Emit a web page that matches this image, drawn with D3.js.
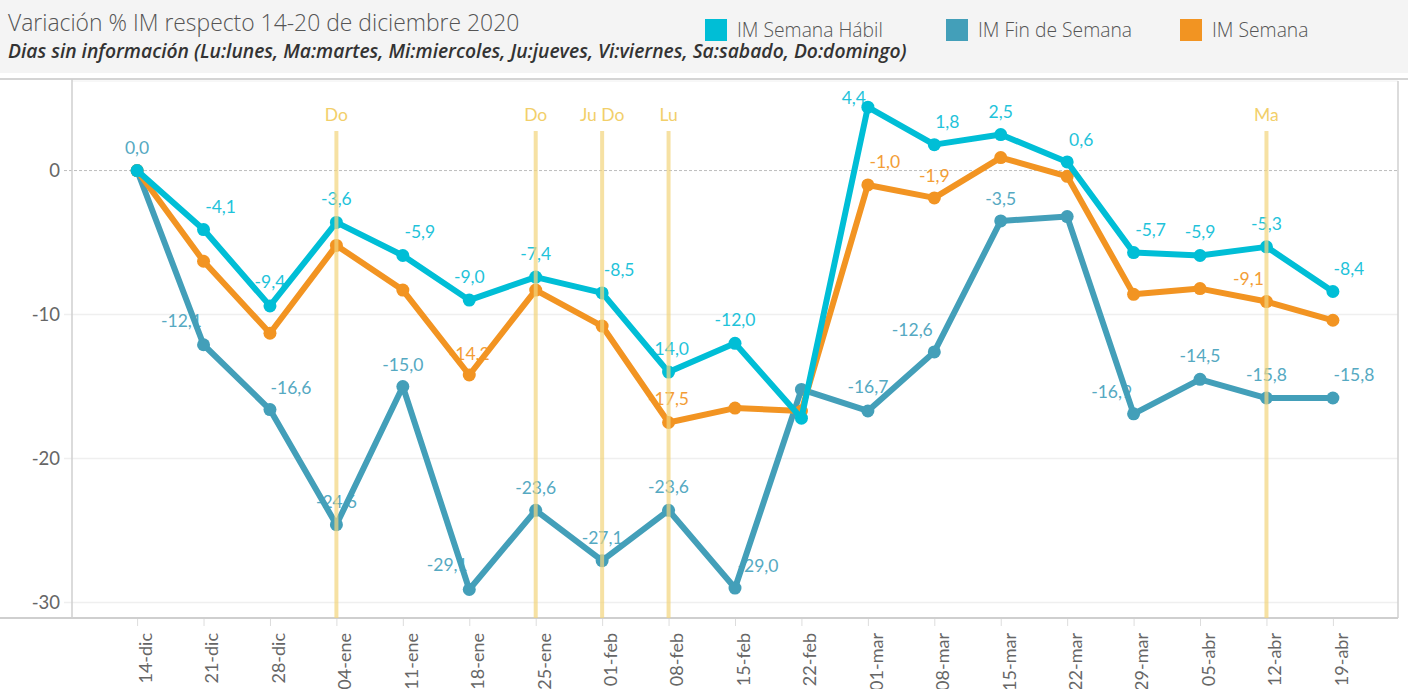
<!DOCTYPE html>
<html>
<head>
<meta charset="utf-8">
<script src="https://cdn.jsdelivr.net/npm/d3@7"></script>
<style>
  body { margin: 0; background: #fff; }
  svg { display: block; font-family: Lato, "Noto Sans", sans-serif; }
</style>
</head>
<body>
<svg id="chart"></svg>
<script>
// semanas (lunes de cada semana)
var semanas = ["14-dic","21-dic","28-dic","04-ene","11-ene","18-ene","25-ene","01-feb","08-feb","15-feb",
               "22-feb","01-mar","08-mar","15-mar","22-mar","29-mar","05-abr","12-abr","19-abr"];

// valores % por serie
var imHabil  = [0.0, -4.1, -9.4, -3.6, -5.9, -9.0, -7.4, -8.5, -14.0, -12.0, -17.2, 4.4, 1.8, 2.5, 0.6, -5.7, -5.9, -5.3, -8.4];
var imFinSem = [0.0, -12.1, -16.6, -24.6, -15.0, -29.1, -23.6, -27.1, -23.6, -29.0, -15.2, -16.7, -12.6, -3.5, -3.2, -16.9, -14.5, -15.8, -15.8];
var imSemana = [0.0, -6.3, -11.3, -5.2, -8.3, -14.2, -8.3, -10.8, -17.5, -16.5, -16.7, -1.0, -1.9, 0.9, -0.4, -8.6, -8.2, -9.1, -10.4];

// dias sin informacion
var refSemanas = ["04-ene","25-ene","01-feb","08-feb","12-abr"];
var refTextos  = ["Do","Do","Ju Do","Lu","Ma"];

var yTicks = [0, -10, -20, -30];

// etiquetas visibles: [dx, dy] respecto al punto, null = oculta
var lblHabil = [null,[17,-17],[0,-18],[0,-17],[17,-17],[0,-17],[0,-17],[17,-17],[0,-17],[0,-17],null,
                [-14,-3],[13,-17],[0,-17],[14,-16],[17,-17],[0,-17],[0,-17],[16,-16]];
var lblFinSem = [[0,-17],[-22,-18],[21,-16],[0,-17],[0,-15],[-22,-18],[0,-16],[0,-17],[0,-17],[23,-16],null,
                 [0,-18],[-22,-16],[0,-16],null,[-22,-16],[0,-17],[0,-17],[21,-17]];
var lblSemana = [null,null,null,null,null,[0,-15],null,null,[0,-17],null,null,
                 [17,-17],[0,-16],null,null,null,null,[-18,-17],null];

var W = 1408, H = 689;
var svg = d3.select("#chart").attr("width", W).attr("height", H);
var fmt = function(v, p) { return d3.format(p)(v).replace(".", ",").replace("−", "-"); };

// cabecera
svg.append("rect").attr("x", 0).attr("y", 0).attr("width", W).attr("height", 73).attr("fill", "#f4f4f4");
svg.append("line").attr("x1", 0).attr("x2", W).attr("y1", 79).attr("y2", 79)
  .attr("stroke", "#d4d4d4").attr("stroke-width", 2);

svg.append("text").attr("x", 8).attr("y", 31)
  .attr("font-size", 22.9).attr("font-family", "'Open Sans', sans-serif").attr("font-weight", 300).attr("fill", "#555")
  .text("Variación % IM respecto 14-20 de diciembre 2020");
svg.append("text").attr("x", 8).attr("y", 58)
  .attr("font-size", 19.3).attr("font-family", "'Open Sans', sans-serif")
  .attr("font-style", "italic").attr("font-weight", 600).attr("fill", "#333")
  .text("Dias sin información (Lu:lunes, Ma:martes, Mi:miercoles, Ju:jueves, Vi:viernes, Sa:sabado, Do:domingo)");

var series = [
  { nombre: "IM Semana Hábil", valores: imHabil, color: "#00bed6", lblColor: "#1fc3da", etiquetas: lblHabil },
  { nombre: "IM Fin de Semana", valores: imFinSem, color: "#439fb9", lblColor: "#55a9c2", etiquetas: lblFinSem },
  { nombre: "IM Semana", valores: imSemana, color: "#f29422", lblColor: "#f39d36", etiquetas: lblSemana }
];

// leyenda
var legX = [705, 946, 1180];
var leg = svg.selectAll("g.legende").data(series).enter().append("g")
  .attr("class", "legende")
  .attr("transform", function(d, i) { return "translate(" + legX[i] + ",19)"; });
leg.append("rect").attr("width", 22).attr("height", 22).attr("fill", function(d) { return d.color; });
leg.append("text").attr("x", 32).attr("y", 18).attr("font-size", 19.3)
  .attr("font-family", "'Open Sans', sans-serif").attr("font-weight", 300)
  .attr("fill", "#555").text(function(d) { return d.nombre; });

// escalas
var plot = { left: 72, right: 1398, top: 81, bottom: 618 };
var x = d3.scalePoint().domain(semanas).range([plot.left, plot.right]).padding(0.98);
var y = d3.scaleLinear().domain([-31.08, 6.22]).range([plot.bottom, plot.top]);

// grilla
svg.append("g").selectAll("line").data(yTicks.filter(function(t) { return t !== 0; })).enter().append("line")
  .attr("x1", 64).attr("x2", plot.right).attr("y1", function(d) { return y(d); }).attr("y2", function(d) { return y(d); })
  .attr("stroke", "#efefef").attr("stroke-width", 1.5);
svg.append("line").attr("x1", 64).attr("x2", plot.right).attr("y1", y(0)).attr("y2", y(0))
  .attr("stroke", "#bdbdbd").attr("stroke-dasharray", "3,2");
svg.append("line").attr("x1", plot.left).attr("x2", plot.right).attr("y1", plot.top).attr("y2", plot.top)
  .attr("stroke", "#f0f0f0");
svg.append("line").attr("x1", plot.right).attr("x2", plot.right).attr("y1", plot.top).attr("y2", plot.bottom)
  .attr("stroke", "#d0d0d0").attr("stroke-width", 1.5);

// eje y
var yAxis = svg.append("g").attr("transform", "translate(" + plot.left + ",0)")
  .call(d3.axisLeft(y).tickValues(yTicks).tickSize(0).tickPadding(12).tickFormat(function(d) { return fmt(d, "d"); }));
yAxis.select(".domain").remove();
yAxis.selectAll("text").attr("font-size", 18.5).attr("fill", "#666").attr("font-family", "Lato, sans-serif");
svg.append("line").attr("x1", plot.left).attr("x2", plot.left).attr("y1", plot.top - 2).attr("y2", plot.bottom)
  .attr("stroke", "#cfcfcf").attr("stroke-width", 1.5);

// eje x
var xAxis = svg.append("g").attr("transform", "translate(0," + plot.bottom + ")")
  .call(d3.axisBottom(x).tickSize(8).tickPadding(0));
xAxis.select(".domain").remove();
xAxis.selectAll(".tick line").attr("stroke", "#ddd");
xAxis.selectAll("text")
  .attr("font-size", 18).attr("fill", "#666").attr("font-family", "Lato, sans-serif")
  .attr("text-anchor", "end").attr("dy", "0.35em")
  .attr("transform", "translate(0,15) rotate(-90)");
svg.append("line").attr("x1", 0).attr("x2", plot.right).attr("y1", plot.bottom).attr("y2", plot.bottom)
  .attr("stroke", "#cfcfcf").attr("stroke-width", 2);

// etiquetas (debajo de las lineas)
series.forEach(function(s) {
  svg.append("g").selectAll("text")
    .data(s.valores.map(function(v, i) { return { v: v, i: i, o: s.etiquetas[i] }; }).filter(function(d) { return d.o; }))
    .enter().append("text")
    .attr("x", function(d) { return x(semanas[d.i]) + d.o[0]; })
    .attr("y", function(d) { return y(d.v) + d.o[1]; })
    .attr("text-anchor", "middle").attr("font-size", 17.5).attr("fill", s.lblColor)
    .text(function(d) { return fmt(d.v, ".1f"); });
});

// lineas y puntos
var line = d3.line()
  .x(function(d, i) { return x(semanas[i]); })
  .y(function(d) { return y(d); });

[1, 2, 0].forEach(function(k) {
  var s = series[k];
  var g = svg.append("g");
  g.append("path").datum(s.valores)
    .attr("fill", "none").attr("stroke", s.color).attr("stroke-width", 6)
    .attr("stroke-linejoin", "round").attr("stroke-linecap", "round")
    .attr("d", line);
  g.selectAll("circle").data(s.valores).enter().append("circle")
    .attr("cx", function(d, i) { return x(semanas[i]); })
    .attr("cy", function(d) { return y(d); })
    .attr("r", 6.5).attr("fill", s.color);
});

// lineas de referencia
var ref = svg.append("g").selectAll("g").data(refSemanas).enter().append("g");
ref.append("line")
  .attr("x1", function(d) { return x(d); }).attr("x2", function(d) { return x(d); })
  .attr("y1", 131).attr("y2", plot.bottom)
  .attr("stroke", "#f2d47c").attr("stroke-opacity", 0.7).attr("stroke-width", 4);
ref.append("text")
  .attr("x", function(d) { return x(d); }).attr("y", 121)
  .attr("text-anchor", "middle").attr("font-size", 17.5).attr("fill", "#f2cf6a")
  .text(function(d, i) { return refTextos[i]; });
</script>
</body>
</html>
